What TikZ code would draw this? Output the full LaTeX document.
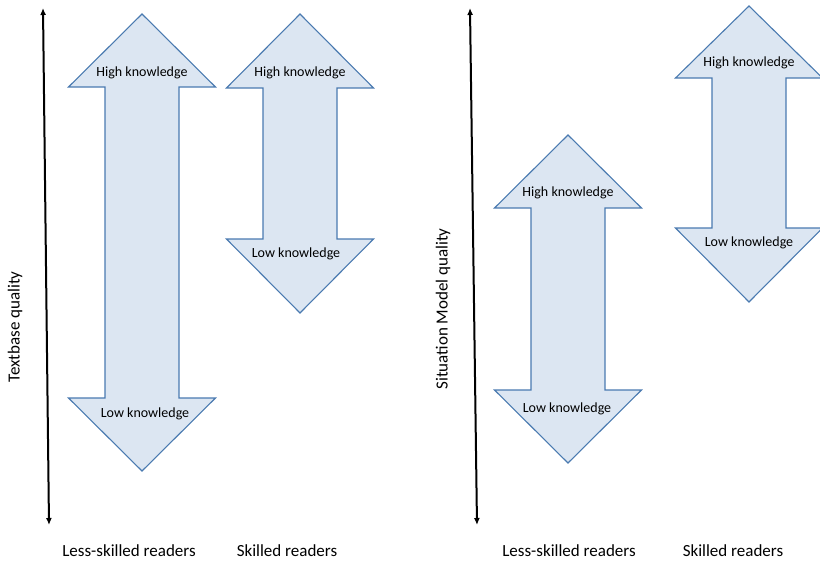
\documentclass[tikz,border=0pt]{standalone}
\usepackage{fontspec}
\setmainfont{Carlito}
\usetikzlibrary{arrows.meta}
\definecolor{arrfill}{HTML}{DCE6F2}
\definecolor{arrline}{HTML}{4A7AB0}
\tikzset{
  dblarrow/.style={fill=arrfill, draw=arrline, line width=1.1pt, line join=miter},
  knowtext/.style={font=\fontsize{14}{16}\selectfont, inner sep=0pt},
  axislbl/.style={font=\fontsize{17}{20}\selectfont, inner sep=0pt},
  axisarrow/.style={line width=2pt, {Latex[length=7pt,width=6pt]}-{Latex[length=7pt,width=6pt]}}
}
% #1 cx, #2 top tip y, #3 top wing y, #4 bottom wing y, #5 bottom tip y, #6 half shaft, #7 half wing
\newcommand\drawdbl[7]{%
  \draw[dblarrow] (#1,#2) -- (#1+#7,#3) -- (#1+#6,#3) -- (#1+#6,#4) -- (#1+#7,#4)
    -- (#1,#5) -- (#1-#7,#4) -- (#1-#6,#4) -- (#1-#6,#3) -- (#1-#7,#3) -- cycle;}
\begin{document}
\begin{tikzpicture}[x=1pt,y=-1pt]
\useasboundingbox (0,0) rectangle (820,562);
% axes
\coordinate (lt) at (43,8);
\coordinate (lb) at (49,525);
\coordinate (rt) at (470,8);
\coordinate (rb) at (477,525);
\draw[axisarrow] (lt) -- (lb);
\draw[axisarrow] (rt) -- (rb);
% arrows
\drawdbl{142}{14}{87}{398}{471}{37}{73.5}
\drawdbl{300}{14}{88}{239}{313}{37}{73.5}
\drawdbl{568}{135}{208}{390}{463}{37}{73.5}
\drawdbl{749}{6}{78}{228}{302}{37}{73.5}
% knowledge texts
\node[knowtext] (h1) at (142,73) {High knowledge};
\node[knowtext] (l1) at (145,414) {Low knowledge};
\node[knowtext] (h2) at (300,73) {High knowledge};
\node[knowtext] (l2) at (296,254) {Low knowledge};
\node[knowtext] (h3) at (568,193) {High knowledge};
\node[knowtext] (l3) at (567,409) {Low knowledge};
\node[knowtext] (h4) at (749,63) {High knowledge};
\node[knowtext] (l4) at (749,243) {Low knowledge};
% axis labels
\node[axislbl, rotate=90] (tq) at (15,327) {Textbase quality};
\node[axislbl, rotate=90] (sq) at (443,309) {Situation Model quality};
% reader labels
\node[axislbl] (r1) at (129,551) {Less-skilled readers};
\node[axislbl] (r2) at (287,551) {Skilled readers};
\node[axislbl] (r3) at (569,551) {Less-skilled readers};
\node[axislbl] (r4) at (733,551) {Skilled readers};
\end{tikzpicture}
\end{document}
